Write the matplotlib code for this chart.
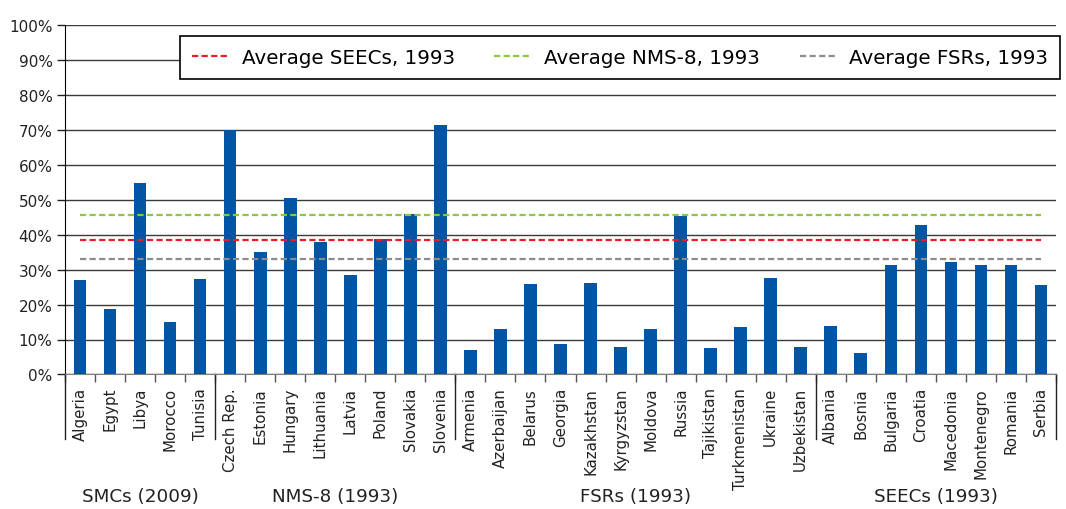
import numpy as np
import matplotlib
matplotlib.use("Agg")
import matplotlib.pyplot as plt
from matplotlib.lines import Line2D
from matplotlib.ticker import FixedLocator, PercentFormatter

# dane
countries = ['Algeria', 'Egypt', 'Libya', 'Morocco', 'Tunisia',
             'Czech Rep.', 'Estonia', 'Hungary', 'Lithuania', 'Latvia', 'Poland', 'Slovakia', 'Slovenia',
             'Armenia', 'Azerbaijan', 'Belarus', 'Georgia', 'Kazakhstan', 'Kyrgyzstan', 'Moldova', 'Russia',
             'Tajikistan', 'Turkmenistan', 'Ukraine', 'Uzbekistan',
             'Albania', 'Bosnia', 'Bulgaria', 'Croatia', 'Macedonia', 'Montenegro', 'Romania', 'Serbia']
values = [27.0, 18.8, 54.8, 15.0, 27.3,
          70.0, 35.1, 50.5, 37.9, 28.5, 38.8, 46.0, 71.5,
          7.0, 13.0, 25.9, 8.7, 26.2, 7.9, 13.0, 45.4,
          7.6, 13.6, 27.6, 7.9,
          13.9, 6.1, 31.3, 42.8, 32.2, 31.3, 31.3, 25.6]
groups = ['SMCs (2009)', 'NMS-8 (1993)', 'FSRs (1993)', 'SEECs (1993)']
group_sizes = [5, 8, 12, 8]

avg_labels = ['Average SEECs, 1993', 'Average NMS-8, 1993', 'Average FSRs, 1993']
avg_values = [38.5, 45.7, 33.0]
avg_colors = ['#ED1C24', '#8DC63F', '#8C8C8C']

n = len(countries)
x = np.arange(n)
dash = (2.8, 1.5)

fig = plt.figure(figsize=(10.66, 5.10), dpi=100)
ax = fig.add_axes([65/1066, 1 - 375.4/510, (1056 - 65)/1066, 349/510])

ax.bar(x, values, width=0.42, color='#0055A4', zorder=3)

for v, c in zip(avg_values, avg_colors):
    ax.plot([x[0], x[-1]], [v, v], color=c, lw=1.6, dashes=dash, zorder=4)

ax.set_xlim(-0.5, n - 0.5)
ax.set_ylim(0, 100)
ax.set_yticks(np.arange(0, 101, 10))
ax.yaxis.set_major_formatter(PercentFormatter(decimals=0))
ax.grid(axis='y', color='#3a3a3a', lw=1.0, zorder=1)
ax.tick_params(axis='y', length=6, width=1, labelsize=11, colors='#222222', pad=3)

# etykiety krajow na srodku, krotkie kreski na granicach kategorii
ax.set_xticks(x)
ax.set_xticklabels(countries, rotation=90, fontsize=10.8, color='#222222')
ax.tick_params(axis='x', which='major', length=0, pad=9)
ax.xaxis.set_minor_locator(FixedLocator(np.arange(n + 1) - 0.5))
ax.tick_params(axis='x', which='minor', length=6, width=1, color='#555555')

for s in ['top', 'right']:
    ax.spines[s].set_visible(False)
ax.spines['left'].set_color('black')
ax.spines['bottom'].set_color('#808080')

# dlugie kreski miedzy grupami + podpisy grup
bounds = np.concatenate([[0], np.cumsum(group_sizes)]) - 0.5
trans = ax.get_xaxis_transform()
for b in bounds:
    ax.plot([b, b], [0, -0.186], color='#222222', lw=1, transform=trans, clip_on=False)
for g, lo, hi in zip(groups, bounds[:-1], bounds[1:]):
    ax.text((lo + hi) / 2, -0.348, g, transform=trans, ha='center', va='center',
            fontsize=13.2, color='#222222')

handles = [Line2D([], [], color=c, lw=1.6, dashes=dash) for c in avg_colors]
leg = fig.legend(handles, avg_labels, loc='upper left', bbox_to_anchor=(180/1066, 1 - 37/510),
                 ncol=3, fontsize=14.3, frameon=True, fancybox=False, framealpha=1,
                 edgecolor='black', handlelength=1.9, columnspacing=2.0, borderpad=0.6,
                 handletextpad=0.6, borderaxespad=0)
leg.get_frame().set_linewidth(1.2)

fig.savefig("out.png", dpi=100)
